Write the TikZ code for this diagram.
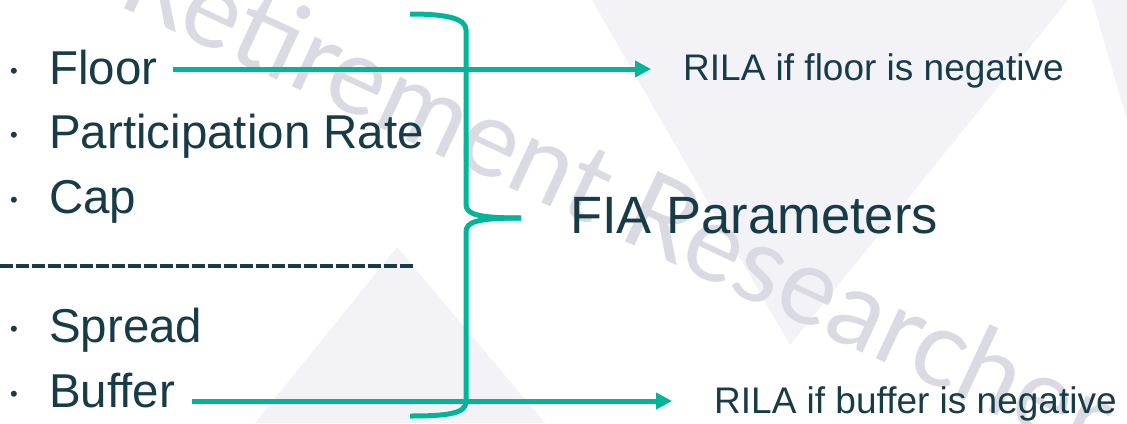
\documentclass[tikz,border=0pt]{standalone}
\usepackage{fontspec}
\setmainfont{Liberation Sans}
\newfontfamily\wmfont{Lato}
\usetikzlibrary{arrows.meta,calc}

\definecolor{ink}{RGB}{23,59,71}
\definecolor{brandteal}{RGB}{0,181,152}
\definecolor{bgshade}{RGB}{243,243,247}
\definecolor{wmgray}{RGB}{218,218,226}

\tikzset{
  item/.style={anchor=base west, inner sep=0pt, text=ink,
    font=\fontsize{47.5}{50}\selectfont},
  dot/.style={anchor=center, inner sep=0pt, text=ink,
    font=\fontsize{22}{22}\selectfont},
  note/.style={anchor=base west, inner sep=0pt, text=ink,
    font=\fontsize{37}{40}\selectfont},
  title/.style={anchor=base west, inner sep=0pt, text=ink,
    font=\fontsize{52.5}{55}\selectfont},
  link/.style={draw=brandteal, line width=5pt,
    -{Triangle[length=16pt,width=16pt]}},
  brace/.style={draw=brandteal, line width=5pt, line cap=butt},
  divider/.style={draw=ink, line width=4pt, dash pattern=on 13pt off 3pt}
}

\begin{document}
\begin{tikzpicture}[x=1pt,y=-1pt]
  \useasboundingbox (0,0) rectangle (1127,423);
  \fill[white] (0,0) rectangle (1127,423);

  % faint background triangles
  \fill[bgshade] (592,0) -- (1068,0) -- (790,345) -- cycle;
  \fill[bgshade] (1092,0) -- (1127,0) -- (1127,120) -- cycle;
  \fill[bgshade] (397,247) -- (545,423) -- (255,423) -- cycle;

  % watermark
  \node[rotate=-25, text=wmgray, inner sep=0pt,
        font=\wmfont\fontsize{108}{108}\selectfont] (wm) at (620,196)
        {Retirement Researcher};

  % bullet list
  \node[item] (floor)  at (49,84)  {Floor};
  \node[item] (part)   at (49,148) {Participation Rate};
  \node[item] (cap)    at (49,213) {Cap};
  \node[item] (spread) at (49,342) {Spread};
  \node[item] (buffer) at (49,407) {Buffer};
  \foreach \y/\n in {73/b1,137/b2,202/b3,331/b4,396/b5}
    \node[dot] (\n) at (14,\y) {•};

  % divider between the two groups
  \coordinate (d0) at (0,266);
  \coordinate (d1) at (414,266);
  \draw[divider] (d0) -- (d1);

  % right-hand labels
  \node[note]  (rila1) at (683,80)  {RILA if floor is negative};
  \node[title] (fia)   at (570,233) {FIA Parameters};
  \node[note]  (rila2) at (714,413) {RILA if buffer is negative};

  % curly brace grouping the parameters
  \draw[brace] (410,14) .. controls (445,14) and (466,18) .. (466,30)
    -- (466,204) .. controls (466,214) and (476,218) .. (521,218);
  \draw[brace] (521,218) .. controls (476,218) and (466,222) .. (466,232)
    -- (466,402) .. controls (466,414) and (445,416) .. (410,416);

  % arrows to the RILA notes
  \coordinate (f0) at ($(floor.base east)+(15,-15)$);
  \coordinate (f1) at ($(rila1.base west)+(-32,-11)$);
  \draw[link] (f0) -- (f0 -| f1);
  \coordinate (g0) at ($(buffer.base east)+(17,-6)$);
  \coordinate (g1) at ($(rila2.base west)+(-42,-12)$);
  \draw[link] (g0) -- (g0 -| g1);
\end{tikzpicture}
\end{document}
